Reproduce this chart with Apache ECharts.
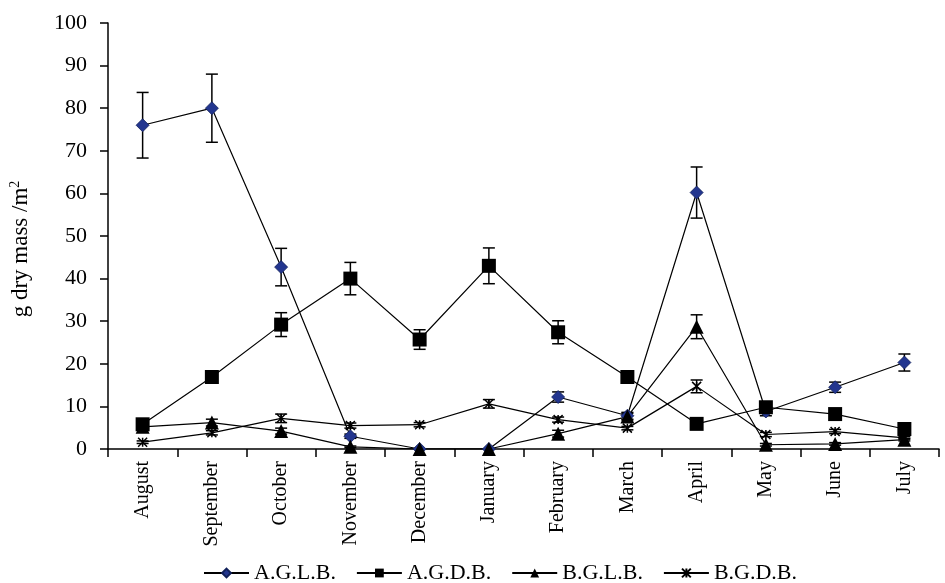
<!DOCTYPE html>
<html>
<head>
<meta charset="utf-8">
<script src="https://cdn.jsdelivr.net/npm/echarts@6/dist/echarts.min.js"></script>
<style>
  html, body { margin: 0; padding: 0; background: #fff; }
  #chart { width: 945px; height: 583px; }
</style>
</head>
<body>
<div id="chart"></div>
<script>
// Monthly biomass (g dry mass per m²) with standard error bars
const months = ['August', 'September', 'October', 'November', 'December', 'January',
                'February', 'March', 'April', 'May', 'June', 'July'];

const aglb    = [76, 80, 42.7, 3, 0, 0, 12.2, 7.8, 60.2, 8.8, 14.5, 20.3];
const aglbErr = [7.7, 8, 4.4, 0.5, 0, 0, 1.2, 0.8, 6, 1, 1.2, 2];

const agdb    = [5.8, 16.9, 29.2, 40, 25.7, 43, 27.4, 16.9, 5.9, 9.8, 8.2, 4.7];
const agdbErr = [1, 1.4, 2.8, 3.8, 2.3, 4.2, 2.7, 1.2, 0.5, 1, 0.8, 0.5];

const bglb    = [5.2, 6.2, 4.2, 0.5, 0, 0, 3.6, 7.6, 28.7, 1, 1.2, 2.2];
const bglbErr = [0.5, 0.8, 0.7, 0.2, 0, 0, 0.8, 0.8, 2.8, 0.3, 0.3, 0.3];

const bgdb    = [1.6, 3.8, 7.2, 5.5, 5.7, 10.6, 6.9, 4.9, 14.7, 3.4, 4.1, 2.6];
const bgdbErr = [0.3, 0.5, 1, 0.6, 0.5, 1, 0.6, 0.4, 1.5, 0.5, 0.5, 0.3];

const yTicks = [0, 10, 20, 30, 40, 50, 60, 70, 80, 90, 100];

const FONT = '"Liberation Serif", "DejaVu Serif", serif';

function errorData(values, errs) {
  return values.map((v, i) => [i, v - errs[i], v + errs[i]]);
}

function errorSeries(values, errs) {
  return {
    type: 'custom',
    z: 1,
    silent: true,
    data: errorData(values, errs),
    renderItem(params, api) {
      const x = api.value(0);
      const lo = api.coord([x, api.value(1)]);
      const hi = api.coord([x, api.value(2)]);
      if (Math.abs(hi[1] - lo[1]) < 1) return null;
      const cap = 6;
      const style = { stroke: '#000', lineWidth: 1.5 };
      return {
        type: 'group',
        children: [
          { type: 'line', shape: { x1: lo[0], y1: lo[1], x2: hi[0], y2: hi[1] }, style },
          { type: 'line', shape: { x1: lo[0] - cap, y1: lo[1], x2: lo[0] + cap, y2: lo[1] }, style },
          { type: 'line', shape: { x1: hi[0] - cap, y1: hi[1], x2: hi[0] + cap, y2: hi[1] }, style }
        ]
      };
    }
  };
}

function lineSeries(name, values, symbol, size, itemStyle) {
  return {
    name,
    type: 'line',
    z: 2,
    data: values,
    symbol,
    symbolSize: size,
    showAllSymbol: true,
    lineStyle: { color: '#000', width: 1.2 },
    itemStyle,
    emphasis: { disabled: true }
  };
}

const chart = echarts.init(document.getElementById('chart'));
chart.setOption({
  animation: false,
  backgroundColor: '#fff',
  grid: { left: 107, right: 6, top: 23, bottom: 134, containLabel: false },
  xAxis: {
    type: 'category',
    data: months,
    boundaryGap: true,
    axisLine: { lineStyle: { color: '#000', width: 1.5 } },
    axisTick: { show: true, alignWithLabel: false, length: 8, inside: false,
                lineStyle: { color: '#000', width: 1.5 } },
    axisLabel: { rotate: 90, margin: 12, color: '#000', fontFamily: FONT, fontSize: 20, interval: 0 },
    splitLine: { show: false }
  },
  yAxis: {
    type: 'value',
    min: yTicks[0],
    max: yTicks[yTicks.length - 1],
    interval: yTicks[1] - yTicks[0],
    name: '{a|g dry mass /m}{s|2}',
    nameLocation: 'middle',
    nameRotate: 90,
    nameGap: 74,
    nameTextStyle: {
      padding: [0, 26, 0, 0],
      rich: {
        a: { fontFamily: FONT, fontSize: 23, color: '#000' },
        s: { fontFamily: FONT, fontSize: 14, color: '#000', verticalAlign: 'top', padding: [0, 0, 12, 0] }
      }
    },
    axisLine: { show: true, lineStyle: { color: '#000', width: 1.5 } },
    axisTick: { show: true, length: 8, lineStyle: { color: '#000', width: 1.5 } },
    axisLabel: { margin: 21, color: '#000', fontFamily: FONT, fontSize: 22 },
    splitLine: { show: false }
  },
  legend: {
    bottom: -6,
    left: 198,
    itemWidth: 45,
    itemHeight: 11,
    itemGap: 20,
    data: ['A.G.L.B.', 'A.G.D.B.', 'B.G.L.B.', 'B.G.D.B.'],
    textStyle: { fontFamily: FONT, fontSize: 22, color: '#000' }
  },
  series: [
    errorSeries(aglb, aglbErr),
    errorSeries(agdb, agdbErr),
    errorSeries(bglb, bglbErr),
    errorSeries(bgdb, bgdbErr),
    lineSeries('A.G.L.B.', aglb, 'diamond', 13,
      { color: '#23368f', borderColor: '#10205a', borderWidth: 0.8 }),
    lineSeries('A.G.D.B.', agdb, 'rect', 14, { color: '#000' }),
    lineSeries('B.G.L.B.', bglb, 'triangle', 14, { color: '#000' }),
    lineSeries('B.G.D.B.', bgdb, 'path://M0,0L10,10M10,0L0,10M5,0L5,10', 9,
      { color: 'rgba(0,0,0,0)', borderColor: '#000', borderWidth: 1.5 })
  ]
});
</script>
</body>
</html>
